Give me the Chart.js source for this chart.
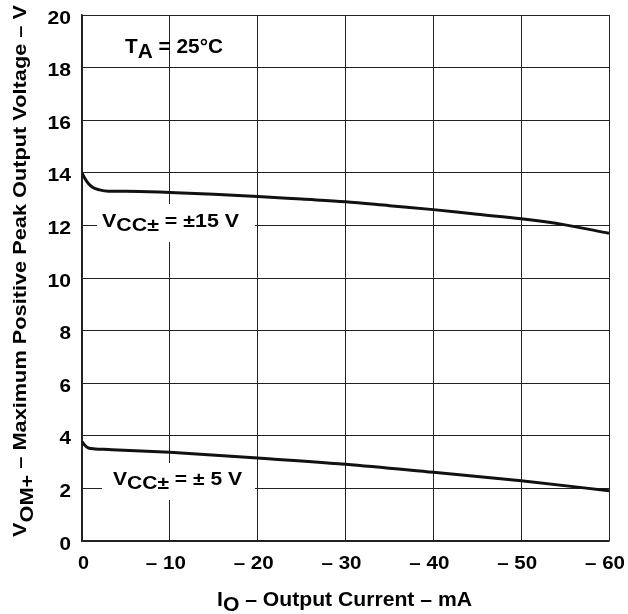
<!DOCTYPE html>
<html>
<head>
<meta charset="utf-8">
<script src="https://cdn.jsdelivr.net/npm/chart.js@4/dist/chart.umd.min.js"></script>
<style>
html,body{margin:0;padding:0;background:#fff;}
#wrap{width:628px;height:614px;}
</style>
</head>
<body>
<div id="wrap"><canvas id="c" width="628" height="614"></canvas></div>
<script>
// Data
const currents15 = [0, -0.3, -0.7, -1.2, -2, -3, -5, -10, -15, -20, -25, -30, -35, -40, -45, -50, -55, -60];
const vom15 = [14.0, 13.8, 13.6, 13.45, 13.35, 13.3, 13.3, 13.25, 13.18, 13.1, 13.0, 12.9, 12.75, 12.6, 12.42, 12.25, 12.02, 11.7];
const currents5 = [0, -0.3, -0.7, -1.5, -3, -10, -20, -30, -40, -50, -60];
const vom5 = [3.78, 3.65, 3.54, 3.5, 3.48, 3.37, 3.16, 2.92, 2.61, 2.29, 1.91];
const xTicks = [0, -10, -20, -30, -40, -50, -60];
const yTicks = [0, 2, 4, 6, 8, 10, 12, 14, 16, 18, 20];
const xTickLabels = xTicks.map(v => v === 0 ? '0' : '– ' + Math.abs(v));
const yTickLabels = yTicks.map(v => String(v));

const FONT = '"Liberation Sans", Arial, sans-serif';

function pts(xs, ys){ return xs.map((x,i)=>({x:x, y:ys[i]})); }

// draw text made of segments (subscripts same size, lowered); stretched horizontally to target width
function drawRich(ctx, segs, x, y, size, align, targetW, subDrop){
  ctx.font = 'bold '+size+'px '+FONT;
  let w = 0;
  segs.forEach(s=>{ w += ctx.measureText(s.t).width; });
  const sx = targetW ? targetW / w : 1;
  const tw = w * sx;
  let start = align==='center' ? x - tw/2 : (align==='right' ? x - tw : x);
  ctx.save();
  ctx.translate(start, y);
  ctx.scale(sx, 1);
  ctx.textBaseline = 'alphabetic';
  ctx.textAlign = 'left';
  let cx = 0;
  segs.forEach(s=>{
    ctx.fillText(s.t, cx, s.sub ? (subDrop||5) : 0);
    cx += ctx.measureText(s.t).width;
  });
  ctx.restore();
}

const annot = {
  id:'annot',
  beforeDatasetsDraw(chart){
    const ctx = chart.ctx;
    ctx.save();
    ctx.fillStyle = '#fff';
    ctx.fillRect(97, 204, 158, 38);
    ctx.fillRect(102, 463, 153, 37);
    ctx.fillStyle = '#000';
    drawRich(ctx, [{t:'T'},{t:'A',sub:true},{t:' = 25°C'}], 125, 53, 20, 'left', 98, 5);
    drawRich(ctx, [{t:'V'},{t:'CC±',sub:true},{t:' = ±15 V'}], 102, 227, 19, 'left', 137, 4);
    drawRich(ctx, [{t:'V'},{t:'CC±',sub:true},{t:' = ± 5 V'}], 113, 485, 19, 'left', 129, 4);
    ctx.restore();
  },
  afterDraw(chart){
    const ctx = chart.ctx;
    const xs = chart.scales.x, ys = chart.scales.y;
    ctx.save();
    ctx.fillStyle = '#000';
    // tick labels
    xTicks.forEach((v,i)=>{
      const px = xs.getPixelForValue(v) + (v===0 ? 1.5 : -4);
      drawRich(ctx, [{t:xTickLabels[i]}], px, 569, 19, 'center', v===0 ? 11 : 40);
    });
    yTicks.forEach((v,i)=>{
      const py = ys.getPixelForValue(v);
      drawRich(ctx, [{t:yTickLabels[i]}], 71, py + 8.5, 19, 'right', v===0 ? 11.5 : (v<10 ? 11.5 : 23.5));
    });
    // x title
    drawRich(ctx, [{t:'I'},{t:'O',sub:true},{t:' – Output Current – mA'}], 344.5, 606, 20, 'center', 255, 5);
    // y title (rotated)
    ctx.translate(26, 271);
    ctx.rotate(-Math.PI/2);
    drawRich(ctx, [{t:'V'},{t:'OM+',sub:true},{t:' – Maximum Positive Peak Output Voltage – V'}], 0, 0, 19, 'center', 532, 7);
    ctx.restore();
  }
};

new Chart(document.getElementById('c'), {
  type:'line',
  data:{
    datasets:[
      {data: pts(currents15, vom15), borderColor:'#111', borderWidth:3, pointRadius:0, cubicInterpolationMode:'monotone', fill:false},
      {data: pts(currents5, vom5), borderColor:'#111', borderWidth:3, pointRadius:0, cubicInterpolationMode:'monotone', fill:false}
    ]
  },
  options:{
    responsive:false,
    animation:false,
    devicePixelRatio:1,
    layout:{padding:{left:0,right:19,top:15,bottom:0}},
    plugins:{legend:{display:false}, tooltip:{enabled:false}},
    scales:{
      x:{
        type:'linear', min:-60, max:0, reverse:true,
        afterBuildTicks(s){ s.ticks = xTicks.map(v=>({value:v})); },
        afterFit(s){ s.height = 73; s.paddingLeft = 0; s.paddingRight = 0; },
        ticks:{ display:false },
        grid:{ color:'#222', lineWidth:1, drawTicks:false },
        border:{ color:'#222', width:1.5 }
      },
      y:{
        type:'linear', min:0, max:20,
        afterBuildTicks(s){ s.ticks = yTicks.map(v=>({value:v})); },
        afterFit(s){ s.width = 82; s.paddingTop = 0; s.paddingBottom = 0; },
        ticks:{ display:false },
        grid:{ color:'#222', lineWidth:1, drawTicks:false },
        border:{ color:'#222', width:1.5 }
      }
    }
  },
  plugins:[annot]
});
</script>
</body>
</html>
